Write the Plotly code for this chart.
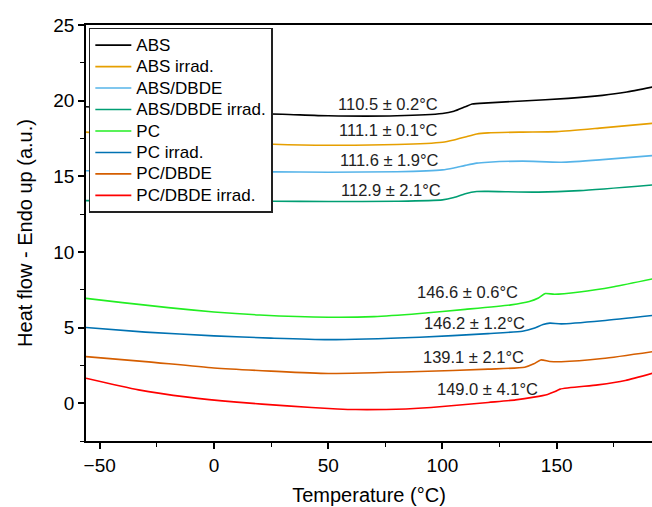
import plotly.graph_objects as go

names = ["ABS", "ABS irrad.", "ABS/DBDE", "ABS/DBDE irrad.", "PC", "PC irrad.", "PC/DBDE", "PC/DBDE irrad."]
colors = ["#000000", "#E69F00", "#56B4E9", "#009E73", "#22EE22", "#0072B2", "#D55E00", "#FF0000"]

abs_x = [-56, -30, 0, 30, 50, 80, 100, 105, 110, 113, 120, 135, 155, 170, 180, 192]
abs_y = [19.6, 19.4, 19.2, 19.1, 19.0, 19.0, 19.15, 19.3, 19.6, 19.78, 19.85, 19.98, 20.15, 20.35, 20.55, 20.9]

absirr_x = [-56, -30, 0, 26, 50, 80, 100, 105, 110, 115, 120, 135, 150, 170, 192]
absirr_y = [17.92, 17.6, 17.3, 17.12, 17.05, 17.1, 17.25, 17.4, 17.6, 17.8, 17.87, 17.92, 17.95, 18.2, 18.5]

absd_x = [-56, -20, 26, 50, 80, 100, 105, 110, 115, 120, 135, 152, 170, 192]
absd_y = [15.37, 15.33, 15.29, 15.27, 15.3, 15.42, 15.55, 15.72, 15.87, 15.93, 16.0, 15.93, 16.1, 16.37]

absdirr_x = [-56, -20, 26, 50, 80, 100, 105, 110, 115, 120, 142, 160, 192]
absdirr_y = [13.39, 13.37, 13.35, 13.33, 13.35, 13.44, 13.6, 13.85, 13.99, 14.0, 13.95, 14.05, 14.43]

pc_x = [-56, -40, -20, 0, 20, 50, 70, 90, 110, 130, 138, 142, 145, 149, 160, 175, 192]
pc_y = [6.93, 6.65, 6.32, 6.03, 5.83, 5.68, 5.72, 5.93, 6.2, 6.5, 6.72, 6.95, 7.25, 7.2, 7.35, 7.7, 8.22]

pcirr_x = [-56, -30, 0, 25, 50, 90, 120, 135, 140, 144, 147, 152, 170, 192]
pcirr_y = [5.0, 4.7, 4.45, 4.3, 4.2, 4.36, 4.6, 4.76, 4.95, 5.2, 5.29, 5.24, 5.45, 5.8]

pcd_x = [-56, -30, 0, 25, 50, 90, 120, 136, 140, 143, 147, 152, 170, 192]
pcd_y = [3.08, 2.75, 2.33, 2.12, 1.96, 2.09, 2.25, 2.38, 2.6, 2.86, 2.76, 2.74, 2.95, 3.41]

pcdirr_x = [-56, -33, -11.5, 10, 32, 54, 62, 84, 95, 120, 132, 140, 146, 149, 151.5, 168, 180, 192]
pcdirr_y = [1.65, 0.88, 0.40, 0.07, -0.18, -0.38, -0.42, -0.38, -0.29, 0.05, 0.22, 0.4, 0.58, 0.75, 0.93, 1.21, 1.5, 1.98]

series_x = [abs_x, absirr_x, absd_x, absdirr_x, pc_x, pcirr_x, pcd_x, pcdirr_x]
series_y = [abs_y, absirr_y, absd_y, absdirr_y, pc_y, pcirr_y, pcd_y, pcdirr_y]

label_text = ["110.5 ± 0.2°C", "111.1 ± 0.1°C", "111.6 ± 1.9°C", "112.9 ± 2.1°C",
              "146.6 ± 0.6°C", "146.2 ± 1.2°C", "139.1 ± 2.1°C", "149.0 ± 4.1°C"]
label_x = [76.3, 76.3, 77.0, 77.3, 110.8, 114.2, 113.7, 119.6]
label_y = [19.78, 18.06, 16.08, 14.1, 7.38, 5.29, 3.08, 0.95]

FONT = "Liberation Sans, Arial"

fig = go.Figure()
for n, c, xs, ys in zip(names, colors, series_x, series_y):
    fig.add_trace(go.Scatter(x=xs, y=ys, name='<span style="font-size:17px">' + n + '</span>',
                             mode="lines",
                             line=dict(color=c, width=1.6, shape="spline", smoothing=0.6)))

for t, x, y in zip(label_text, label_x, label_y):
    fig.add_annotation(x=x, y=y, text=t, showarrow=False,
                       font=dict(size=16.5, color="#222222", family=FONT))

fig.update_layout(
    width=652, height=507,
    margin=dict(l=86, r=0, t=25, b=66),
    plot_bgcolor="white", paper_bgcolor="white",
    font=dict(family=FONT, color="#000000"),
    showlegend=True,
    legend=dict(x=0.005, y=0.993, xanchor="left", yanchor="top",
                bgcolor="white", bordercolor="#222222", borderwidth=1.5,
                font=dict(size=14.2), tracegroupgap=0, itemwidth=36),
)
fig.update_xaxes(range=[-56, 191.7], tickvals=[-50, 0, 50, 100, 150],
                 showline=True, linecolor="black", linewidth=1.8, mirror=True,
                 ticks="outside", ticklen=6, tickwidth=1.5, tickcolor="black",
                 minor=dict(tickvals=[-25, 25, 75, 125, 175], ticks="outside", ticklen=4, tickwidth=1.2, tickcolor="black"),
                 showgrid=False, zeroline=False, tickfont=dict(size=19),
                 title=dict(text="Temperature (°C)", font=dict(size=20), standoff=13))
fig.update_yaxes(range=[-2.5, 25], tickvals=[0, 5, 10, 15, 20, 25],
                 showline=True, linecolor="black", linewidth=1.8, mirror=False,
                 ticks="outside", ticklen=6, tickwidth=1.5, tickcolor="black",
                 minor=dict(tickvals=[-2.5, 2.5, 7.5, 12.5, 17.5, 22.5], ticks="outside", ticklen=4, tickwidth=1.2, tickcolor="black"),
                 showgrid=False, zeroline=False, tickfont=dict(size=19),
                 title=dict(text="Heat flow - Endo up (a.u.)", font=dict(size=20), standoff=15))

fig.write_html("out.html", config={"displayModeBar": False},
               post_script="document.body.style.margin='0';document.body.style.overflow='hidden';")
